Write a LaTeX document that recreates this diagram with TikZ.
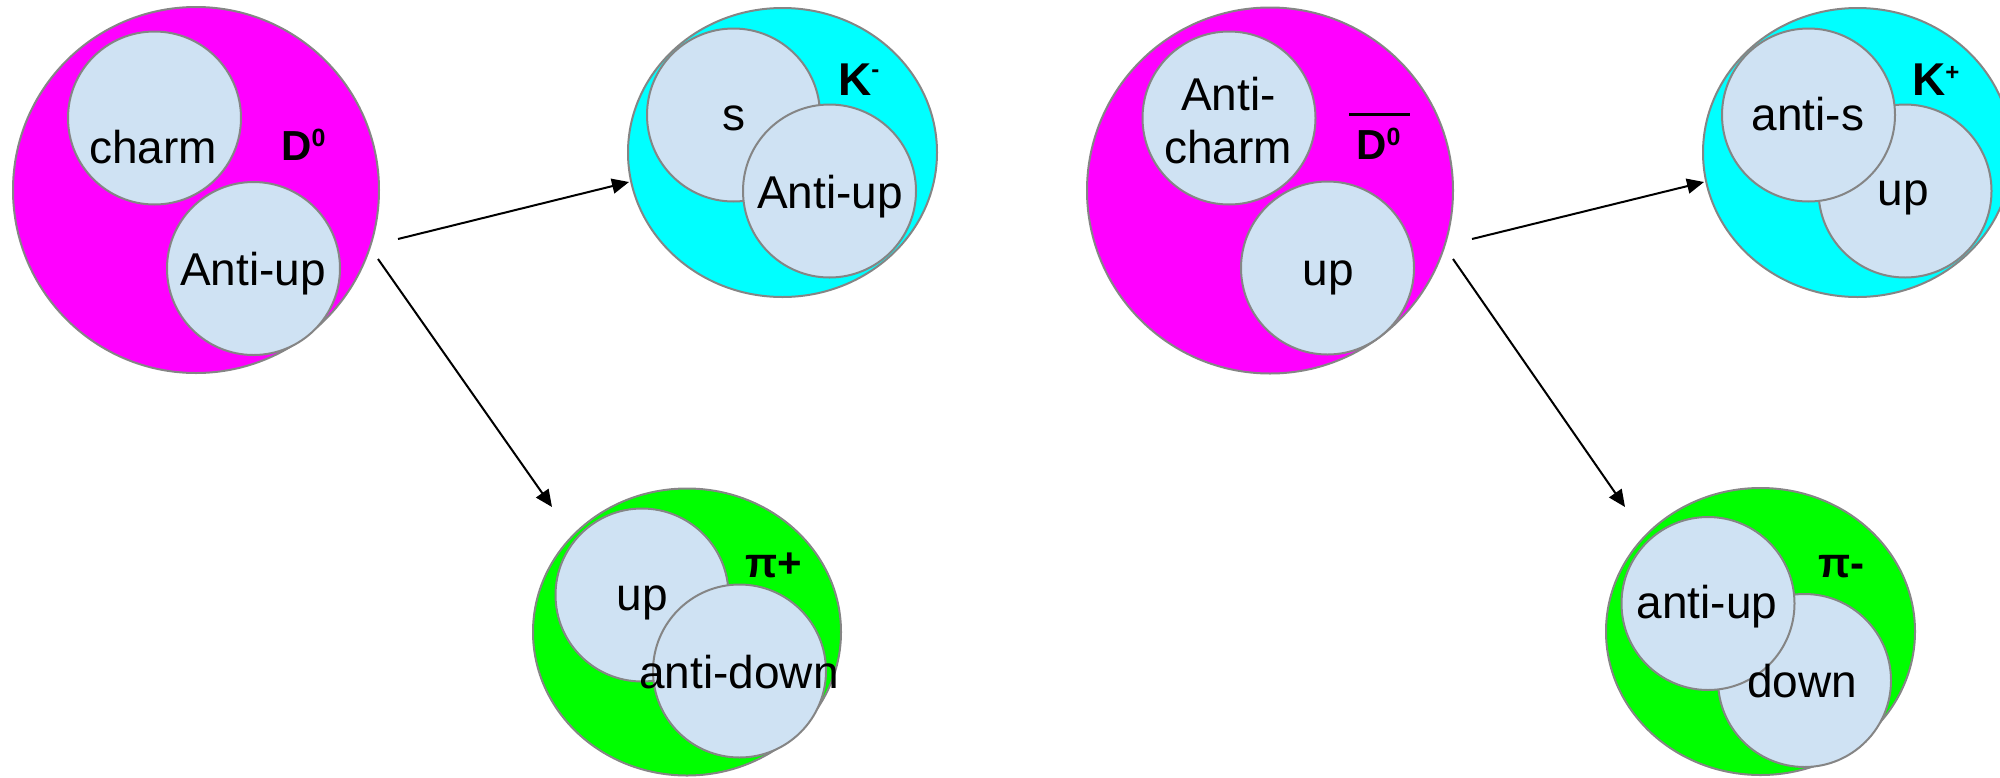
\documentclass[tikz,border=0pt]{standalone}
\usepackage{fontspec}
\setmainfont{Liberation Sans}
\usetikzlibrary{shapes.geometric,arrows.meta}
\definecolor{quark}{HTML}{CFE2F3}
\definecolor{rim}{HTML}{858585}
\definecolor{dmag}{RGB}{255,0,255}
\definecolor{kcyan}{RGB}{0,255,255}
\definecolor{pgreen}{RGB}{0,255,0}
\begin{document}
\begin{tikzpicture}[x=1pt,y=-1pt,
  meson/.style={ellipse,draw=rim,line width=2pt,inner sep=0pt,outer sep=0pt},
  quarkc/.style={circle,draw=rim,line width=2pt,fill=quark,inner sep=0pt,outer sep=0pt,minimum size=173pt},
  qtxt/.style={inner sep=0pt,anchor=base,font=\fontsize{46}{53}\selectfont},
  mtxt/.style={inner sep=0pt,anchor=base west,font=\fontsize{46}{53}\selectfont\bfseries},
  dtxt/.style={inner sep=0pt,anchor=base west,font=\fontsize{42}{48}\selectfont\bfseries},
  decay/.style={line width=2pt,-{Triangle[length=17pt,width=15pt]}}]
\useasboundingbox (0,0) rectangle (2000,777);

% ---- D0 ----
\node[meson,fill=dmag,minimum width=366pt,minimum height=366pt] (D0) at (196,190) {};
\node[quarkc] (Dc) at (154.5,118) {};
\node[quarkc] (Dau) at (253.5,268.5) {};
\node[qtxt] (tDc) at (153,163) {charm};
\node[qtxt] (tDau) at (253,285) {Anti-up};
\node[dtxt] (lD0) at (281,160) {D\raisebox{14pt}{\fontsize{25}{25}\selectfont 0}};

% ---- K- ----
\node[meson,fill=kcyan,minimum width=309pt,minimum height=289pt] (Km) at (782.5,152.5) {};
\node[quarkc] (Ks) at (733.5,115) {};
\node[quarkc] (Kau) at (829.5,191) {};
\node[qtxt] (tKs) at (734,130) {s};
\node[qtxt] (tKau) at (830,208) {Anti-up};
\node[mtxt] (lKm) at (838,95) {K\raisebox{18pt}{\fontsize{24}{24}\selectfont -}};

% ---- pi+ ----
\node[meson,fill=pgreen,minimum width=308pt,minimum height=287pt] (Pp) at (687,632) {};
\node[quarkc] (Pu) at (642,595) {};
\node[quarkc] (Pad) at (739.5,671) {};
\node[qtxt] (tPu) at (642,610) {up};
\node[qtxt] (tPad) at (739,688) {anti-down};
\node[dtxt] (lPp) at (745,577) {π+};

% ---- anti-D0 ----
\node[meson,fill=dmag,minimum width=366pt,minimum height=366pt] (aD0) at (1270,190.5) {};
\node[quarkc] (aDc) at (1229,118) {};
\node[quarkc] (aDu) at (1327.5,268) {};
\node[qtxt] (taDc1) at (1228.5,110) {Anti-};
\node[qtxt] (taDc2) at (1228,163) {charm};
\node[qtxt] (taDu) at (1328,285) {up};
\node[dtxt] (laD0) at (1349,159)
  {\rlap{\raisebox{43pt}{\rule{61pt}{3pt}}}\hspace*{7pt}D\raisebox{14pt}{\fontsize{25}{25}\selectfont 0}};

% ---- K+ ----
\node[meson,fill=kcyan,minimum width=309pt,minimum height=289pt] (Kp) at (1857.5,152.5) {};
\node[quarkc] (Ku) at (1905,191) {};
\node[quarkc] (Kas) at (1808.5,115) {};
\node[qtxt] (tKas) at (1808,130) {anti-s};
\node[qtxt] (tKu) at (1903,205) {up};
\node[mtxt] (lKp) at (1912,95) {K\raisebox{15pt}{\fontsize{24}{24}\selectfont +}};

% ---- pi- ----
\node[meson,fill=pgreen,minimum width=309pt,minimum height=287pt] (Pm) at (1760.5,631.5) {};
\node[quarkc] (Pd) at (1804.5,680.5) {};
\node[quarkc] (Pau) at (1708,603.5) {};
\node[qtxt] (tPau) at (1707,618) {anti-up};
\node[qtxt] (tPd) at (1802,697) {down};
\node[dtxt] (lPm) at (1818,577) {π-};

% ---- decay arrows ----
\coordinate (a1s) at (398,239);
\coordinate (a1e) at (629,182);
\coordinate (a2s) at (378,259);
\coordinate (a2e) at (552,507);
\coordinate (a3s) at (1472,239);
\coordinate (a3e) at (1704,182);
\coordinate (a4s) at (1453,259);
\coordinate (a4e) at (1625,507);
\draw[decay] (a1s) -- (a1e);
\draw[decay] (a2s) -- (a2e);
\draw[decay] (a3s) -- (a3e);
\draw[decay] (a4s) -- (a4e);
\end{tikzpicture}
\end{document}
